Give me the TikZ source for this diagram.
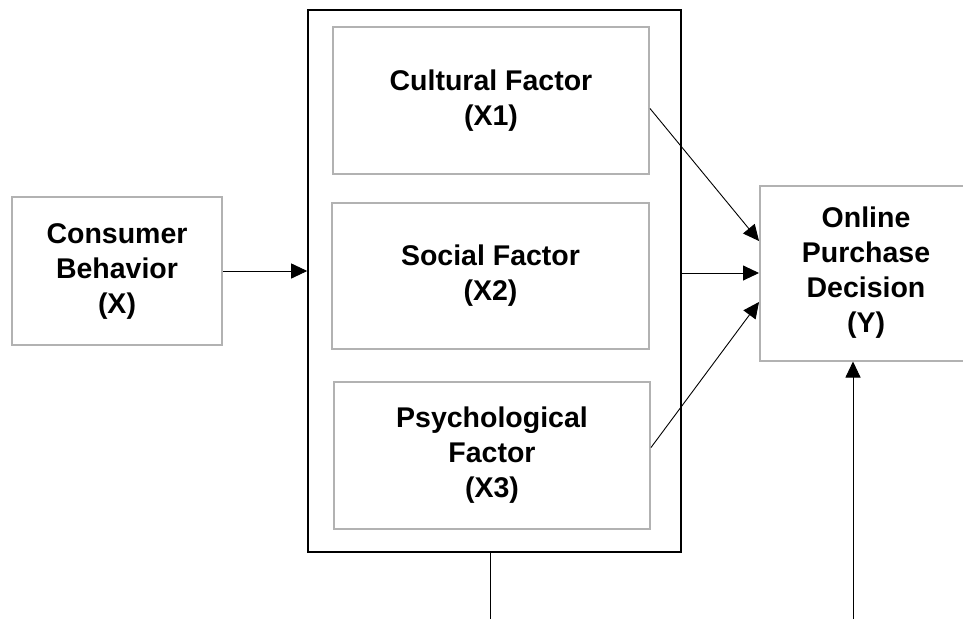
\documentclass[tikz,border=0pt]{standalone}
\usepackage{fontspec}
\setmainfont{Liberation Sans}
\usepackage{tikz}
\usetikzlibrary{arrows.meta,positioning}
\definecolor{boxgray}{RGB}{178,178,178}

\begin{document}
\begin{tikzpicture}[x=1pt,y=-1pt,>={Triangle[length=16pt,width=15pt]},font=\fontsize{28.5}{35}\selectfont\bfseries]
 \tikzstyle{factor}=[draw=boxgray,line width=2pt,align=center,inner sep=0pt]
 \tikzstyle{frame}=[draw=black,line width=1.6pt,inner sep=0pt]
 \tikzstyle{link}=[line width=0.9pt]
 \useasboundingbox (0,0) rectangle (963,619);

   \node[frame,minimum width=373pt,minimum height=542pt] (outer) at (494.5,281) {};
   \node[factor,minimum width=210pt,minimum height=148pt] (cons) at (117,271) {Consumer\\Behavior\\(X)};
   \node[factor,minimum width=316pt,minimum height=147pt] (cult) at (491,100.5) {Cultural Factor\\(X1)};
   \node[factor,minimum width=317pt,minimum height=146pt] (soc) at (490.5,276) {Social Factor\\(X2)};
   \node[factor,minimum width=316pt,minimum height=147pt] (psy) at (492,455.5) {Psychological\\Factor\\(X3)};
   \node[factor,minimum width=212pt,minimum height=175pt] (onl) at (866,273) {Online\\Purchase\\Decision\\(Y)};
   \coordinate (bot1) at (490,619);
   \coordinate (bot2) at (853,619);

   \draw[link,->] (cons.east) -- (cons.east -| outer.west);
   \draw[link,->] (outer.east |- onl.west) -- (onl.west);
   \draw[link,->] ([yshift=-8pt]cult.east) -- ([yshift=32pt]onl.west);
   \draw[link,->] ([yshift=8pt]psy.east) -- ([yshift=-29pt]onl.west);
   \draw[link] (bot1 |- outer.south) -- (bot1);
   \draw[link,->] (bot2) -- (bot2 |- onl.south);

\end{tikzpicture}
\end{document}
